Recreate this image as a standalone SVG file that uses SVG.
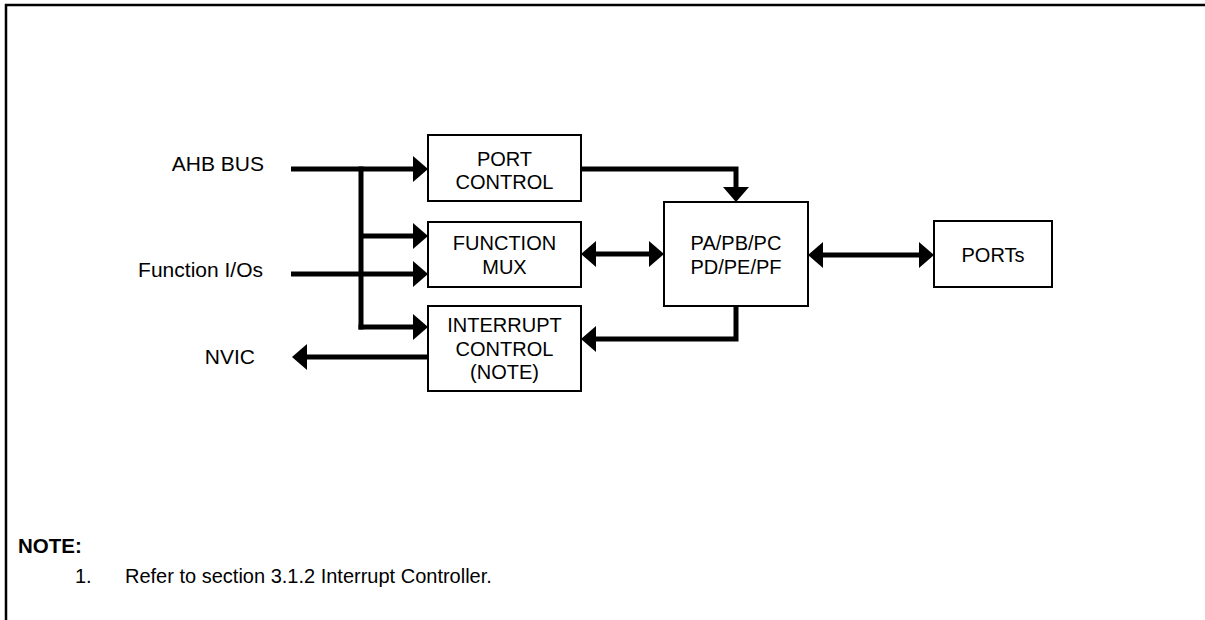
<svg xmlns="http://www.w3.org/2000/svg" width="1205" height="620" viewBox="0 0 1205 620">
<style>
  text { font-family: "Liberation Sans", Arial, sans-serif; font-size: 20px; fill: #000; }
  .c { text-anchor: middle; }
  .e { text-anchor: end; font-size: 21px; }
  .b { font-weight: bold; font-size: 20.5px; }
  .box { fill: #fff; stroke: #000; stroke-width: 2; }
  .wire { fill: none; stroke: #000; stroke-width: 5; stroke-linejoin: miter; }
</style>
<defs>
  <marker id="ah" markerUnits="userSpaceOnUse" markerWidth="16" markerHeight="26" refX="5" refY="13" orient="auto-start-reverse" overflow="visible">
    <path d="M0,0 L15,13 L0,26 z" fill="#000"/>
  </marker>
</defs>
<rect width="1205" height="620" fill="#fff"/>
<path d="M6,620 V5 H1205" fill="none" stroke="#000" stroke-width="2.5"/>

<g id="connectors">
  <path class="wire" d="M291,169 H418" marker-end="url(#ah)"/>
  <path class="wire" d="M361,166.5 V329.5"/>
  <path class="wire" d="M361,236 H418" marker-end="url(#ah)"/>
  <path class="wire" d="M358.5,327 H418" marker-end="url(#ah)"/>
  <path class="wire" d="M291,274 H418" marker-end="url(#ah)"/>
  <path class="wire" d="M428,357 H302" marker-end="url(#ah)"/>
  <path class="wire" d="M581,169 H736 V192" marker-end="url(#ah)"/>
  <path class="wire" d="M591,254 H654" marker-start="url(#ah)" marker-end="url(#ah)"/>
  <path class="wire" d="M818,255 H924" marker-start="url(#ah)" marker-end="url(#ah)"/>
  <path class="wire" d="M736,306 V339 H591" marker-end="url(#ah)"/>
</g>

<g id="label-ahb"><text class="e" x="264" y="171">AHB BUS</text></g>
<g id="label-fio"><text class="e" x="263" y="277">Function I/Os</text></g>
<g id="label-nvic"><text class="e" x="255" y="364">NVIC</text></g>

<g id="port-control">
  <rect class="box" x="428" y="135" width="153" height="66"/>
  <text class="c" x="504.5" y="166">PORT</text>
  <text class="c" x="504.5" y="189">CONTROL</text>
</g>
<g id="function-mux">
  <rect class="box" x="428" y="222" width="153" height="65"/>
  <text class="c" x="504.5" y="250">FUNCTION</text>
  <text class="c" x="504.5" y="274">MUX</text>
</g>
<g id="interrupt-control">
  <rect class="box" x="428" y="306" width="153" height="85"/>
  <text class="c" x="504.5" y="332">INTERRUPT</text>
  <text class="c" x="504.5" y="356">CONTROL</text>
  <text class="c" x="504.5" y="379">(NOTE)</text>
</g>
<g id="pa-pf">
  <rect class="box" x="664" y="202" width="144" height="104"/>
  <text class="c" x="736" y="250">PA/PB/PC</text>
  <text class="c" x="736" y="274">PD/PE/PF</text>
</g>
<g id="ports">
  <rect class="box" x="934" y="221" width="118" height="66"/>
  <text class="c" x="993" y="262">PORTs</text>
</g>

<g id="note">
  <text class="b" x="18" y="553">NOTE:</text>
  <text x="75" y="583">1.</text>
  <text x="125" y="583">Refer to section 3.1.2 Interrupt Controller.</text>
</g>
</svg>
